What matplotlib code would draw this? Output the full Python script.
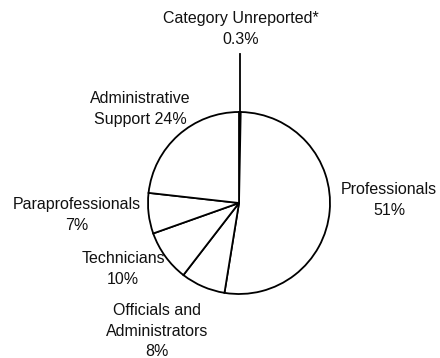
import numpy as np
import matplotlib.pyplot as plt

plt.rcParams['font.family'] = ['Liberation Sans', 'DejaVu Sans']

# shares, labels as printed on the chart
categories = ['Category Unreported*', 'Professionals', 'Officials and\nAdministrators',
              'Technicians', 'Paraprofessionals', 'Administrative\nSupport']
shares = [0.3, 52.2, 7.9, 9.1, 7.2, 23.2]
pct_text = ['0.3%', '51%', '8%', '10%', '7%', '24%']

# where each label block sits (pixels, from top-left)
label_pos = [(241, 29), (389, 200), (157, 331), (123, 269), (77, 215), (140, 109)]

W, H = 440, 358
cx, cy, r = 239, H - 203, 91

fig = plt.figure(figsize=(4.4, 3.58), dpi=100)
ax = fig.add_axes([0, 0, 1, 1])

ax.pie(shares, center=(cx, cy), radius=r, startangle=90, counterclock=False,
       wedgeprops=dict(facecolor='white', edgecolor='black', linewidth=1.3))

# leader line for the tiny slice
ax.plot([cx + 1, cx + 1], [cy + r, cy + r + 58], color='black', lw=1.3)

for i, name in enumerate(categories):
    if name.startswith('Administrative'):
        txt = name + ' ' + pct_text[i]
    else:
        txt = name + '\n' + pct_text[i]
    x, y = label_pos[i]
    ax.text(x, H - y, txt, ha='center', va='center', fontsize=11.5,
            linespacing=1.45, color='#111111')

ax.set_xlim(0, W)
ax.set_ylim(0, H)
ax.set_aspect('equal')
ax.axis('off')

fig.savefig('out.png', dpi=100, facecolor='white')
